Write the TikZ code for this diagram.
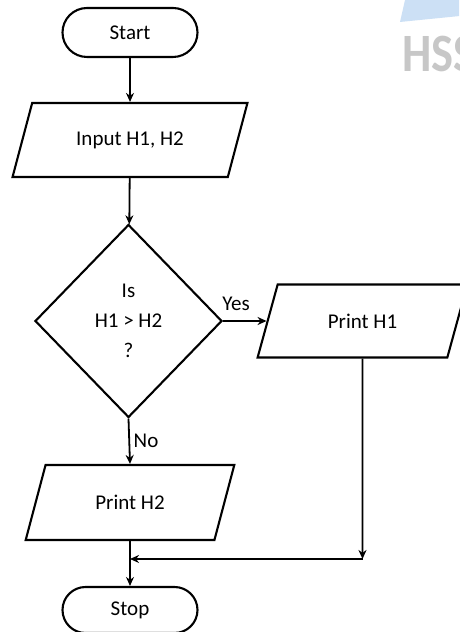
\documentclass[tikz,border=0pt]{standalone}
\usepackage{fontspec}
\setmainfont{Carlito}
\usetikzlibrary{shapes.geometric,shapes.misc,arrows.meta}
\definecolor{bleufiligrane}{RGB}{204,224,245}
\begin{document}
\begin{tikzpicture}[x=1pt,y=1pt,
  every node/.style={font=\fontsize{21}{30}\selectfont},
  terminal/.style={draw,line width=2.1pt,rounded rectangle,minimum width=135,minimum height=49,inner sep=0pt},
  entree/.style={draw,line width=2.1pt,trapezium,trapezium stretches=true,inner sep=0pt},
  test/.style={draw,line width=2.1pt,diamond,minimum width=187,minimum height=193,inner sep=0pt,align=center},
  fleche/.style={line width=1.8pt,-{Stealth[length=9pt,width=8pt]}}]
  \pgfmathsetmacro{\axe}{130}
  \pgfmathsetmacro{\droite}{362.5}
  \pgfmathsetmacro{\hauteur}{632}
  \useasboundingbox (0,0) rectangle (459,\hauteur);
  % filigrane
  \begin{scope}
    \clip (0,0) rectangle (459,\hauteur);
    \fill[bleufiligrane] (405,\hauteur) -- (470,\hauteur) -- (470,\hauteur-15) -- (400,\hauteur-22) -- cycle;
    \node[anchor=south west,text=black!22,inner sep=0pt,xscale=0.86,font=\fontsize{54}{54}\bfseries] (filigrane) at (402,\hauteur-72) {HSS};
  \end{scope}
  \node[terminal] (start) at (\axe,599.5) {Start};
  \node[entree,minimum width=235,minimum height=74,trapezium left angle=57.6,trapezium right angle=122.4] (input) at (\axe,492) {Input H1, H2};
  \node[test] (test) at (128.5,311) {Is\\H1 > H2\\?};
  \node[entree,minimum width=211,minimum height=73,trapezium left angle=60.7,trapezium right angle=119.3] (printa) at (\droite,311) {Print H1};
  \node[entree,minimum width=210,minimum height=75,trapezium left angle=60.8,trapezium right angle=119.2] (printb) at (\axe,129.5) {Print H2};
  \node[terminal,minimum height=46] (stop) at (\axe,22) {Stop};
  \coordinate (jonction) at (\droite,73);
  \node (oui) at (236,328) {Yes};
  \node (non) at (146,191) {No};
  \draw[fleche] (start) -- (input);
  \draw[fleche] (input) -- (test);
  \draw[fleche] (test.east) -- (test.east -| printa.west);
  \draw[fleche] (test.south) -- (printb.north);
  \draw[fleche] (printa.south) -- (jonction);
  \draw[fleche] (jonction) -- (jonction -| printb.south);
  \draw[fleche] (printb.south) -- (stop.north);
\end{tikzpicture}
\end{document}
